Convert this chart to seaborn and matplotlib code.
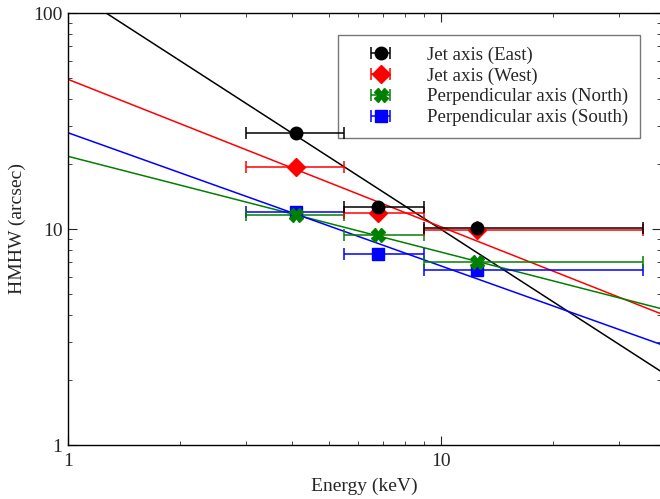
import numpy as np
import pandas as pd
import seaborn as sns
import matplotlib.pyplot as plt
from matplotlib.ticker import NullFormatter

# energy bins (keV)
energy = [4.1, 6.8, 12.5]
energy_lo = [3.0, 5.5, 9.0]
energy_hi = [5.5, 9.0, 35.0]

# HMHW (arcsec) for each region
hmhw_east = [27.9, 12.7, 10.1]
hmhw_west = [19.4, 11.9, 9.9]
hmhw_north = [11.6, 9.35, 7.0]
hmhw_south = [12.0, 7.66, 6.46]

# power-law fits, values at the ends of the x range
fit_x = [1.0, 39.0]
fit_east = [130.0, 2.19]
fit_west = [49.3, 4.05]
fit_north = [21.7, 4.28]
fit_south = [27.9, 2.92]

labels = ["Jet axis (East)", "Jet axis (West)",
          "Perpendicular axis (North)", "Perpendicular axis (South)"]
colors = ["black", "red", "green", "blue"]
markers = ["o", "D", "X", "s"]
msizes = [9, 9.5, 10, 8.5]

sns.set_theme(style="ticks")
plt.rcParams["font.family"] = ["Liberation Serif", "DejaVu Serif"]
plt.rcParams["font.size"] = 14

fig = plt.figure(figsize=(6.6, 4.99), dpi=100)
ax = fig.add_axes([68 / 660, 1 - 445 / 499, 593 / 660, 432 / 499])

# fit lines
fits = pd.DataFrame({
    "energy": fit_x * 4,
    "hmhw": fit_east + fit_west + fit_north + fit_south,
    "region": [l for l in labels for _ in fit_x],
})
sns.lineplot(data=fits, x="energy", y="hmhw", hue="region", hue_order=labels,
             palette=colors, linewidth=1.1, legend=False, ax=ax)

# data points with x error bars (drawn South first so East sits on top)
series = [hmhw_east, hmhw_west, hmhw_north, hmhw_south]
xerr = [np.array(energy) - np.array(energy_lo), np.array(energy_hi) - np.array(energy)]
handles = [None] * 4
for i in [3, 2, 1, 0]:
    h = ax.errorbar(energy, series[i], xerr=xerr, fmt=markers[i], color=colors[i],
                    ms=msizes[i], mec=colors[i], elinewidth=1.1, capsize=4.3,
                    capthick=1.1, label=labels[i])
    handles[i] = h

ax.set_xscale("log")
ax.set_yscale("log")
ax.set_xlim(1, 39)
ax.set_ylim(1, 100)
ax.set_xticks([1, 10], ["1", "10"])
ax.set_yticks([1, 10, 100], ["1", "10", "100"])
ax.xaxis.set_minor_formatter(NullFormatter())
ax.yaxis.set_minor_formatter(NullFormatter())
ax.tick_params(which="both", direction="in", top=True, right=True, labelsize=14)
ax.tick_params(which="major", length=6.5, width=0.8)
ax.tick_params(which="minor", length=3.2, width=0.6)
ax.tick_params(axis="x", which="major", pad=6)
ax.tick_params(axis="y", which="major", pad=4)
for s in ax.spines.values():
    s.set_linewidth(1.0)
    s.set_color("black")

ax.set_xlabel("Energy (keV)", fontsize=14, labelpad=5)
ax.set_ylabel("HMHW (arcsec)", fontsize=14, labelpad=5)

leg = ax.legend(handles=handles, labels=labels, loc="upper right",
                bbox_to_anchor=(0.9646, 0.949), borderaxespad=0, fontsize=13.6,
                frameon=True, fancybox=False, handlelength=3.3, handletextpad=0.8,
                labelspacing=0.18, borderpad=0.62)
leg.get_frame().set_edgecolor("#555555")
leg.get_frame().set_linewidth(1.0)
leg.set_zorder(1.5)  # error bars run over the legend box

fig.savefig("out.png", dpi=100)
